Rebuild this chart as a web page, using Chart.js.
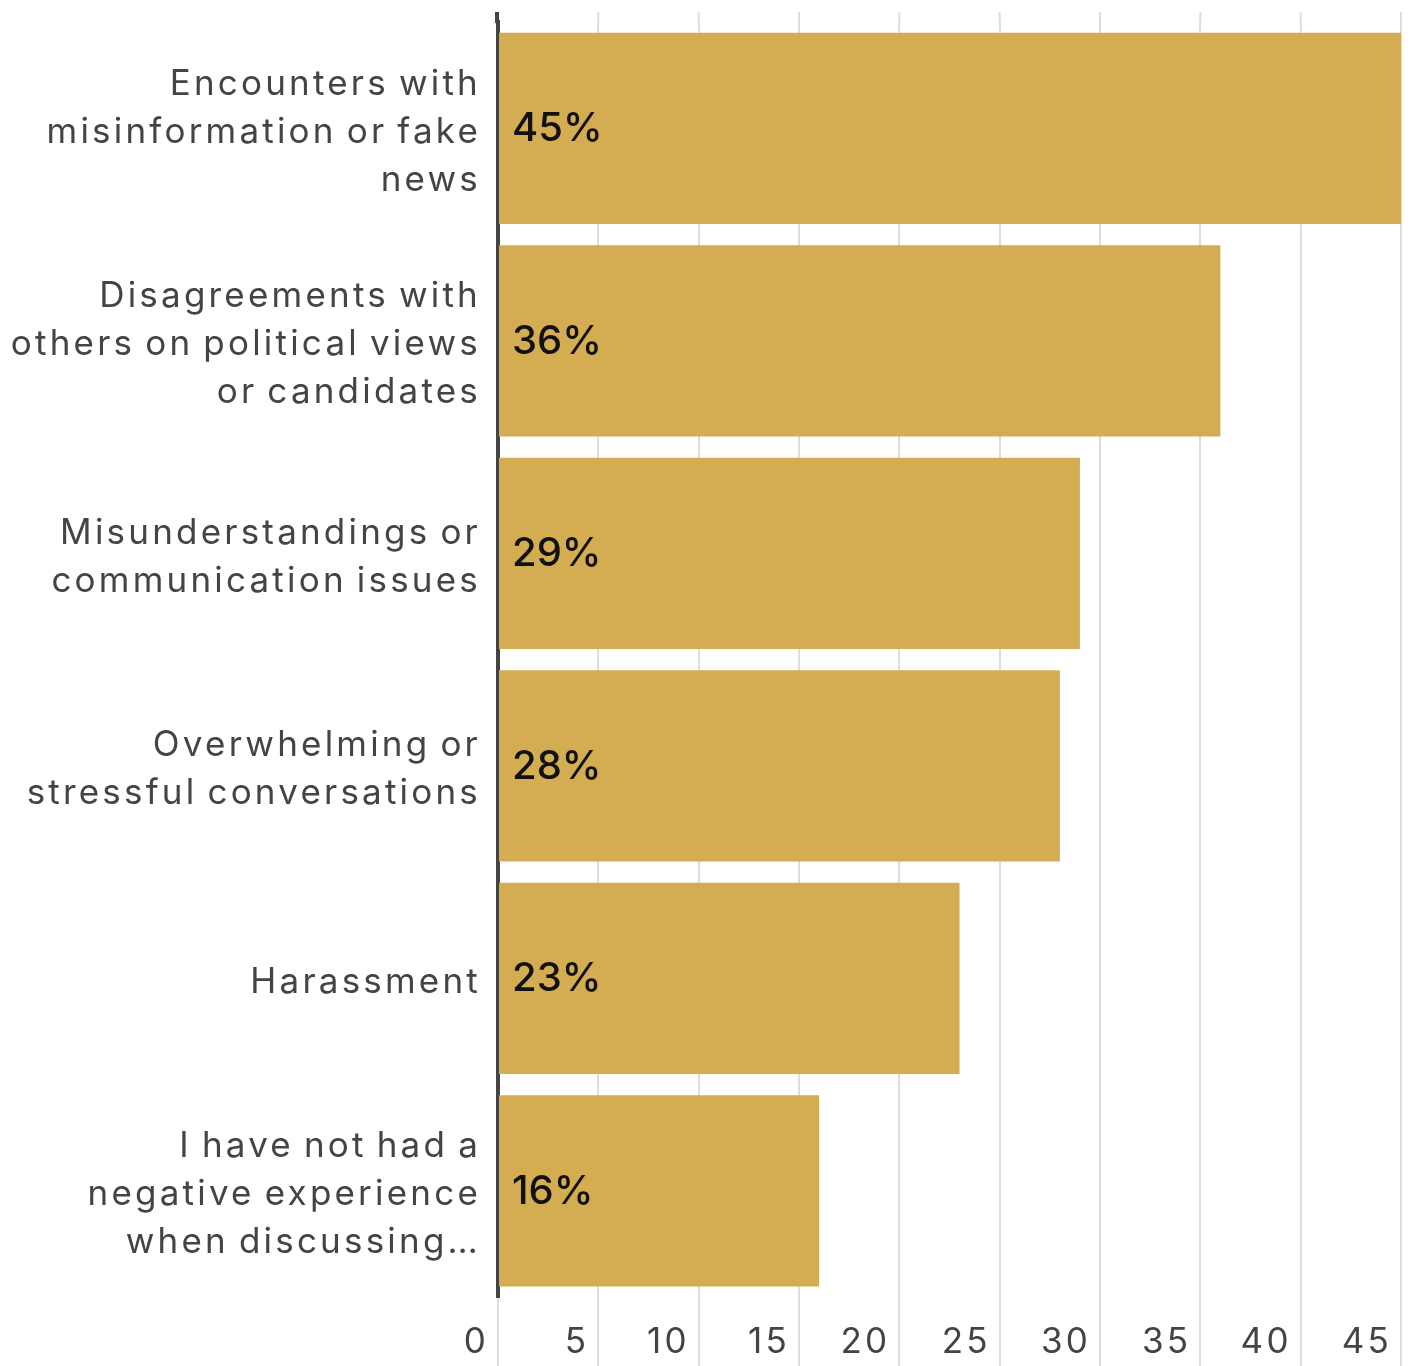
<!DOCTYPE html>
<html>
<head>
<meta charset="utf-8">
<script src="https://cdn.jsdelivr.net/npm/chart.js@4.4.1/dist/chart.umd.min.js"></script>
<style>
  html, body { margin: 0; padding: 0; background: #fff; }
  #wrap { width: 1422px; height: 1366px; position: relative; }
</style>
</head>
<body>
<div id="wrap"><canvas id="chart"></canvas></div>
<script>
// Negative experiences when discussing politics online (% of respondents)
const categories = [
    ['Encounters with', 'misinformation or fake', 'news'],
    ['Disagreements with', 'others on political views', 'or candidates'],
    ['Misunderstandings or', 'communication issues'],
    ['Overwhelming or', 'stressful conversations'],
    ['Harassment'],
    ['I have not had a', 'negative experience', 'when discussing…']
];
const shares = [45, 36, 29, 28, 23, 16];
const axisMin = 0;
const axisMax = 45;
const axisStep = 5;

const FONT = 'Inter';
const barColor = '#d4ad52';
const textColor = '#444444';
const gridColor = '#dddddd';

// the labels are set a little loose, with slightly tighter word gaps
function loosen(ctx) {
    ctx.letterSpacing = '3.2px';
    ctx.wordSpacing = '-3px';
}
const spacing = {
    id: 'spacing',
    beforeUpdate(chart) { loosen(chart.ctx); },
    beforeDraw(chart) { loosen(chart.ctx); }
};

// grid and axis line run a little above the first bar band
const gridTops = {
    id: 'gridTops',
    beforeDatasetsDraw(chart) {
        const { ctx, chartArea, scales } = chart;
        ctx.save();
        ctx.lineWidth = 2;
        ctx.strokeStyle = gridColor;
        scales.x.ticks.forEach((t) => {
            const px = scales.x.getPixelForValue(t.value);
            if (t.value === axisMin) return;
            ctx.beginPath();
            ctx.moveTo(px, chartArea.top - 10);
            ctx.lineTo(px, chartArea.top);
            ctx.stroke();
        });
        ctx.lineWidth = 4;
        ctx.strokeStyle = textColor;
        ctx.beginPath();
        ctx.moveTo(chartArea.left - 1, chartArea.top - 10);
        ctx.lineTo(chartArea.left - 1, chartArea.top + 1);
        ctx.stroke();
        ctx.restore();
    }
};

// writes "NN%" just inside the left end of every bar
const valueLabels = {
    id: 'valueLabels',
    afterDatasetsDraw(chart) {
        const ctx = chart.ctx;
        const meta = chart.getDatasetMeta(0);
        ctx.save();
        ctx.letterSpacing = '0px';
        ctx.wordSpacing = '0px';
        ctx.font = `500 40px ${FONT}`;
        ctx.fillStyle = '#111111';
        ctx.textAlign = 'left';
        ctx.textBaseline = 'middle';
        meta.data.forEach((bar, i) => {
            ctx.fillText(shares[i] + '%', bar.base + 13, bar.y + 1);
        });
        ctx.restore();
    }
};

const ctx = document.getElementById('chart').getContext('2d');
new Chart(ctx, {
    type: 'bar',
    data: {
        labels: categories,
        datasets: [{
            data: shares,
            backgroundColor: barColor,
            borderWidth: 0,
            categoryPercentage: 0.9,
            barPercentage: 1
        }]
    },
    options: {
        indexAxis: 'y',
        responsive: true,
        maintainAspectRatio: false,
        animation: false,
        layout: { padding: { top: 22, right: 21, left: 0, bottom: 0 } },
        plugins: {
            legend: { display: false },
            tooltip: { enabled: false }
        },
        scales: {
            x: {
                min: axisMin,
                max: axisMax,
                afterFit: (scale) => { scale.height = 69; },
                grid: { color: gridColor, lineWidth: 2, tickLength: 70, drawTicks: true },
                border: { display: false },
                ticks: {
                    stepSize: axisStep,
                    align: 'end',
                    labelOffset: -9,
                    padding: -46,
                    color: textColor,
                    font: { family: FONT, size: 35 }
                }
            },
            y: {
                afterFit: (scale) => {
                    scale.width = 498;
                    scale.paddingTop = 0;
                    scale.paddingBottom = 0;
                },
                grid: { display: false },
                border: { display: true, color: textColor, width: 4 },
                ticks: {
                    padding: 9,
                    labelOffset: 4,
                    color: textColor,
                    font: { family: FONT, size: 35, lineHeight: '48px' }
                }
            }
        }
    },
    plugins: [spacing, gridTops, valueLabels]
});
</script>
</body>
</html>
